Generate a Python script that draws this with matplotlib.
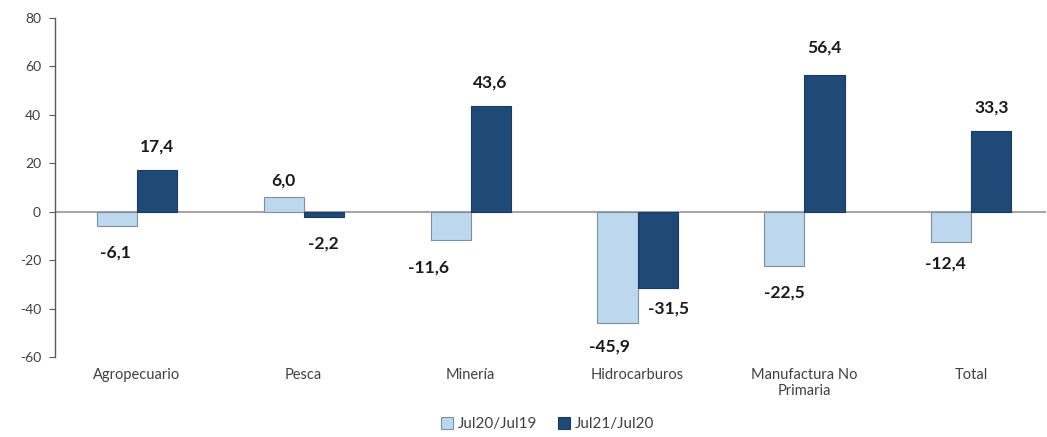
import matplotlib
matplotlib.use("Agg")
import matplotlib.pyplot as plt
import numpy as np

categories = ["Agropecuario", "Pesca", "Minería", "Hidrocarburos", "Manufactura No\nPrimaria", "Total"]
jul20_jul19 = [-6.1, 6.0, -11.6, -45.9, -22.5, -12.4]
jul21_jul20 = [17.4, -2.2, 43.6, -31.5, 56.4, 33.3]
series_names = ["Jul20/Jul19", "Jul21/Jul20"]
yticks = [-60, -40, -20, 0, 20, 40, 60, 80]

# label offsets in points (dx, dy) for each series
off1 = [(-1, -13), (0, 6), (-16, -14), (-6, -11), (0, -13), (-4, -10)]
off2 = [(0, 11), (0, -13), (0, 11), (8, -9), (0, 14), (0, 11)]

plt.rcParams['font.family'] = ['Lato', 'DejaVu Sans']

fig = plt.figure(figsize=(10.47, 4.37), dpi=100)
ax = fig.add_axes([0.0525, 0.183, 0.947, 0.776])

x = np.arange(len(categories))
w = 0.24
light = "#BDD7EE"
dark = "#1F4A78"
ax.bar(x - w/2, jul20_jul19, w, color=light, edgecolor="#7F8FA0", linewidth=0.8, label=series_names[0], zorder=2)
ax.bar(x + w/2, jul21_jul20, w, color=dark, edgecolor="#1A3A5E", linewidth=0.8, label=series_names[1], zorder=2)

def fmt(v):
    return f"{v:.1f}".replace(".", ",")

for xs, vals, offs in ((x - w/2, jul20_jul19, off1), (x + w/2, jul21_jul20, off2)):
    for xi, v, (dx, dy) in zip(xs, vals, offs):
        ax.annotate(fmt(v), (xi, v), xytext=(dx, dy), textcoords="offset points",
                    ha="center", va="bottom" if v >= 0 else "top",
                    fontsize=12.5, fontweight="bold", color="#1a1a1a")

ax.axhline(0, color="#A6A6A6", linewidth=1.5, zorder=1)
ax.set_xlim(-0.49, 5.45)
ax.set_ylim(-60, 80)
ax.set_yticks(yticks)
ax.set_yticklabels([str(t) for t in yticks], fontsize=10, color="#404040")
ax.set_xticks(x)
ax.set_xticklabels(categories, fontsize=10.5, color="#404040")
ax.tick_params(axis="x", length=0, pad=8)
ax.tick_params(axis="y", length=4, direction="out", color="#595959", pad=6)
for s in ("top", "right", "bottom"):
    ax.spines[s].set_visible(False)
ax.spines["left"].set_color("#595959")
ax.spines["left"].set_linewidth(1.0)

fig.legend(loc="lower center", bbox_to_anchor=(0.523, -0.018), ncol=2, frameon=False,
           fontsize=11, handlelength=0.8, handleheight=0.8, handletextpad=0.3,
           columnspacing=1.4, labelcolor="#404040")

fig.savefig("out.png", dpi=100)
